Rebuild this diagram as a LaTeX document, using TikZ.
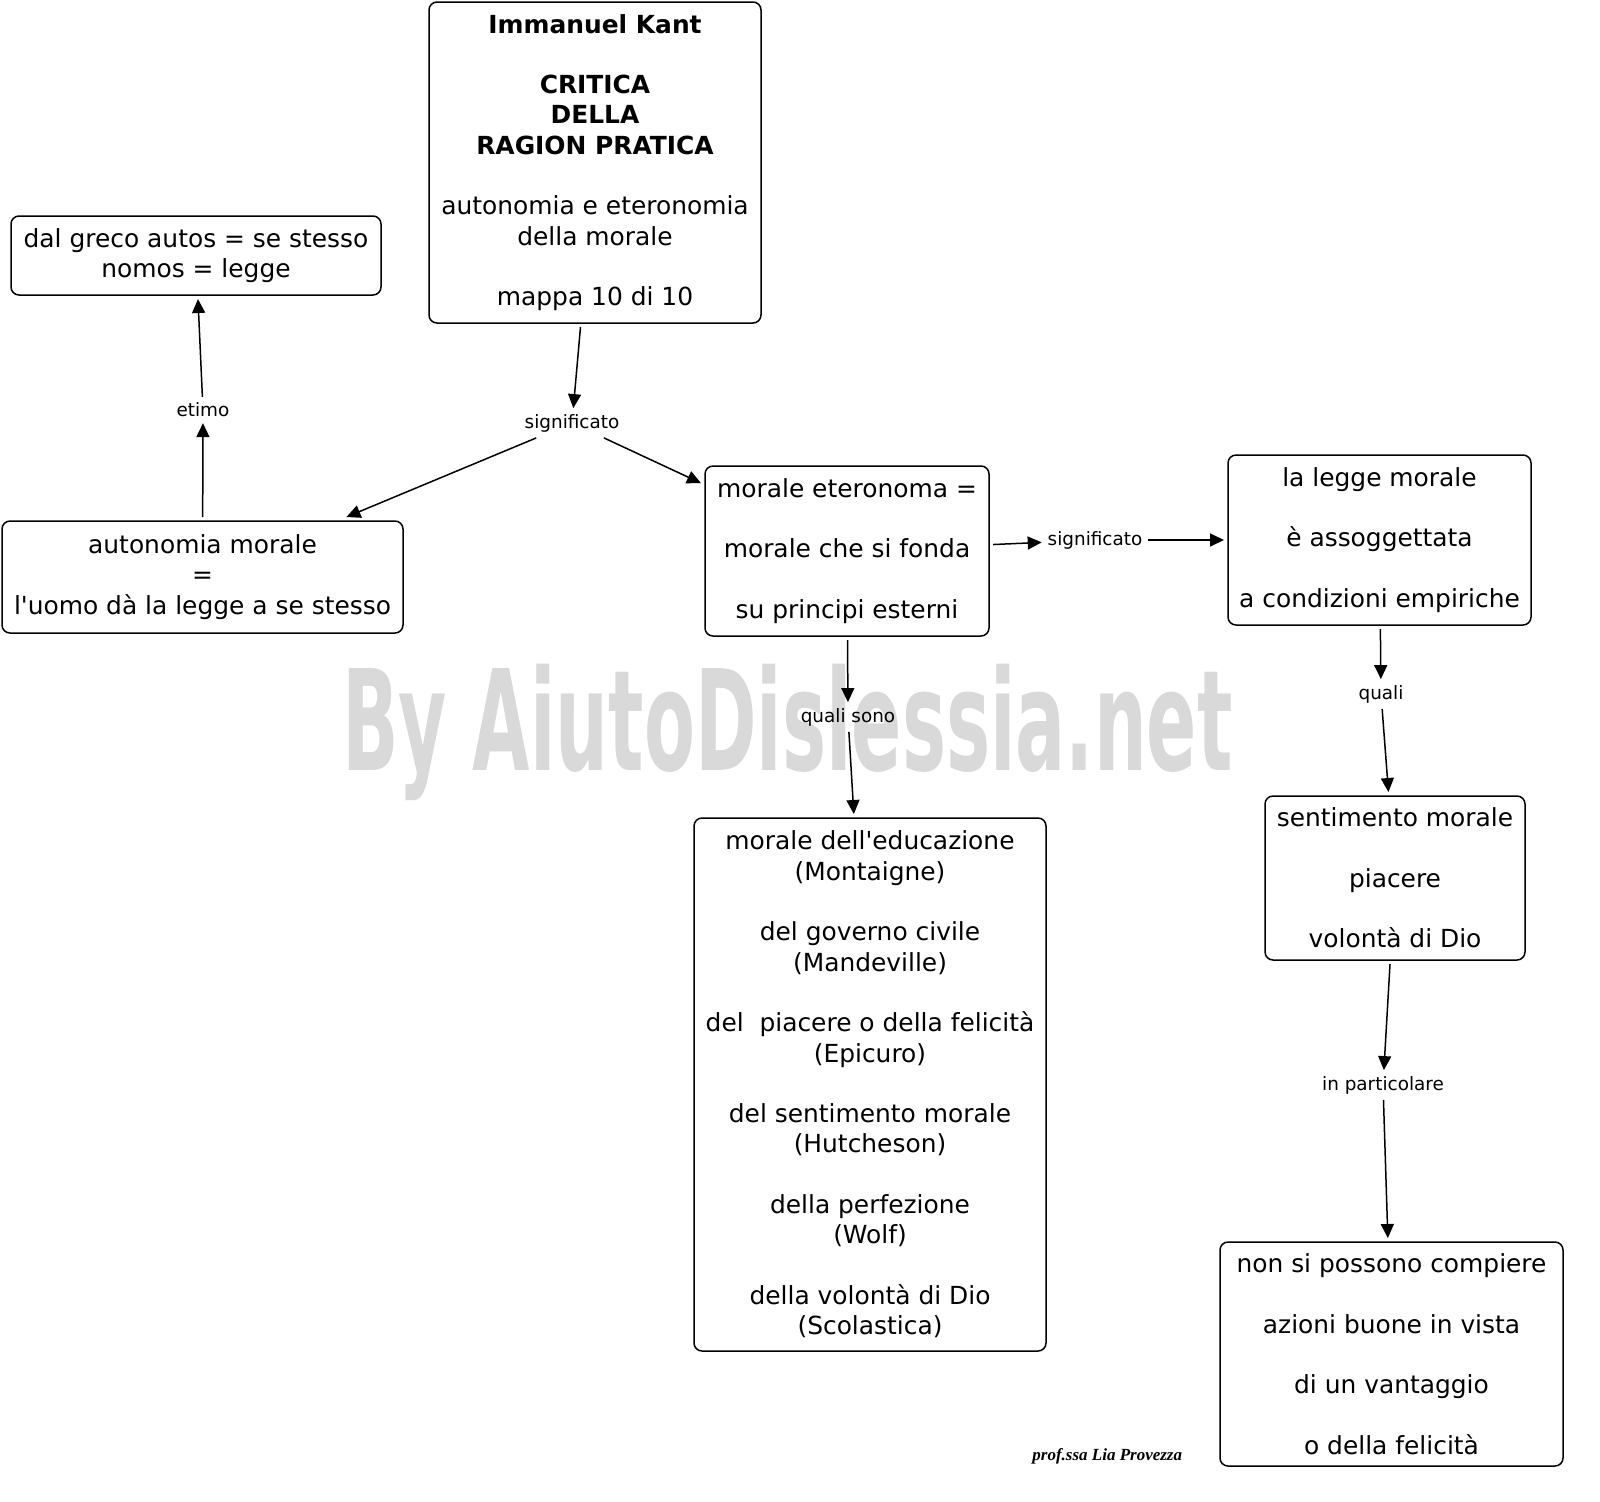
\documentclass[tikz,border=0pt]{standalone}
\usepackage{fontspec}
\setmainfont{DejaVu Sans}
\newfontfamily\firma{Liberation Serif}
\usepackage{tikz}
\usetikzlibrary{arrows.meta}

\begin{document}
\begin{tikzpicture}[x=0.5pt,y=-0.5pt,
  concetto/.style={draw,line width=0.75pt,rounded corners=4pt,align=center,inner sep=0pt,outer sep=2pt,font=\fontsize{12.45}{15.15}\selectfont},
  legame/.style={inner sep=1pt,outer sep=2pt,font=\fontsize{9.2}{10}\selectfont},
  freccia/.style={line width=0.75pt,-{Triangle[length=7pt,width=6.5pt]}}]
\useasboundingbox (0,0) rectangle (1600,1501);
% watermark
\node[anchor=base west,inner sep=0pt,xscale=0.53,text=black!15,font=\fontsize{70}{70}\selectfont\bfseries] (marchio) at (342,770) {By AiutoDislessia.net};
% boxes
\node[concetto,minimum width=166pt,minimum height=160.5pt] (kant) at (595,162.5) {\textbf{Immanuel Kant}\\[15.15pt]\textbf{CRITICA}\\\textbf{DELLA}\\\textbf{RAGION PRATICA}\\[15.15pt]autonomia e eteronomia\\della morale\\[15.15pt]mappa 10 di 10};
\node[concetto,minimum width=185pt,minimum height=39.5pt] (greco) at (196,255.5) {dal greco autos = se stesso\\nomos = legge};
\node[concetto,minimum width=200.5pt,minimum height=56pt] (auto) at (202.5,577) {autonomia morale\\=\\l\textquotesingle uomo dà la legge a se stesso};
\node[concetto,minimum width=142pt,minimum height=85pt] (etero) at (847,551) {morale eteronoma =\\[15.15pt]morale che si fonda\\[15.15pt]su principi esterni};
\node[concetto,minimum width=151.5pt,minimum height=85pt] (legge) at (1379.5,540) {la legge morale\\[15.15pt]è assoggettata\\[15.15pt]a condizioni empiriche};
\node[concetto,minimum width=130pt,minimum height=82pt] (senti) at (1395,878) {sentimento morale\\[15.15pt]piacere\\[15.15pt]volontà di Dio};
\node[concetto,minimum width=176pt,minimum height=266.5pt] (educ) at (870,1084.5) {morale dell\textquotesingle educazione\\(Montaigne)\\[15.15pt]del governo civile\\(Mandeville)\\[15.15pt]del \ piacere o della felicità\\(Epicuro)\\[15.15pt]del sentimento morale\\(Hutcheson)\\[15.15pt]della perfezione\\(Wolf)\\[15.15pt]della volontà di Dio\\(Scolastica)};
\node[concetto,minimum width=171.5pt,minimum height=112pt] (vant) at (1391.5,1354) {non si possono compiere\\[15.15pt]azioni buone in vista\\[15.15pt]di un vantaggio\\[15.15pt]o della felicità};
% link labels
\node[legame] (sig1) at (572,423) {significato};
\node[legame] (etimo) at (203,410) {etimo};
\node[legame] (sig2) at (1095,540) {significato};
\node[legame] (qsono) at (848,717) {quali sono};
\node[legame] (quali) at (1381,694) {quali};
\node[legame] (inpart) at (1383,1085) {in particolare};
% arrows
\draw[freccia] (kant) -- (sig1);
\draw[freccia] (sig1) -- (auto);
\draw[freccia] (sig1) -- (etero);
\draw[freccia] (auto) -- (etimo);
\draw[freccia] (etimo) -- (greco);
\draw[freccia] (etero) -- (sig2);
\draw[freccia] (sig2) -- (legge);
\draw[freccia] (etero) -- (qsono);
\draw[freccia] (qsono) -- (educ);
\draw[freccia] (legge) -- (quali);
\draw[freccia] (quali) -- (senti);
\draw[freccia] (senti) -- (inpart);
\draw[freccia] (inpart) -- (vant);
% signature
\node[anchor=base west,inner sep=0pt,font=\firma\itshape\bfseries\fontsize{8.5}{9}\selectfont] (prof) at (1032,1460) {prof.ssa Lia Provezza};
\end{tikzpicture}
\end{document}
